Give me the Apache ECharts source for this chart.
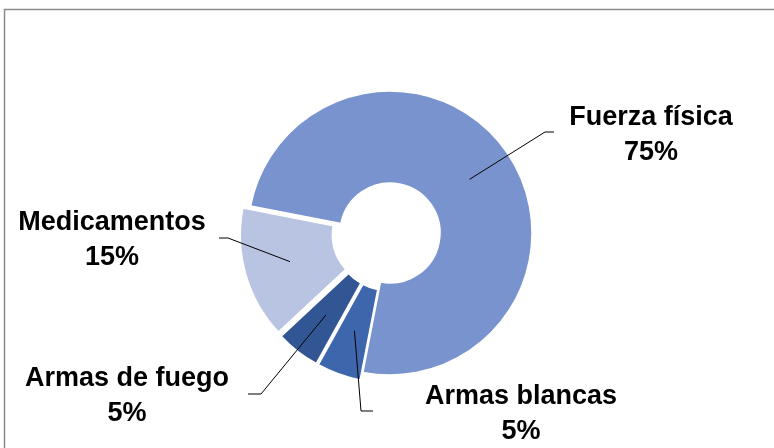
<!DOCTYPE html>
<html>
<head>
<meta charset="utf-8">
<script src="https://cdn.jsdelivr.net/npm/echarts@6/dist/echarts.min.js"></script>
<style>
html,body{margin:0;padding:0;background:#fff;}
#chart{width:774px;height:448px;}
</style>
</head>
<body>
<div id="chart"></div>
<script>
// ---- data ----
const categories = ['Fuerza física', 'Armas blancas', 'Armas de fuego', 'Medicamentos'];
const values = [75, 5, 5, 15];

// ---- style / layout ----
const colors = ['#7993CE', '#3D66AC', '#325693', '#B9C3E2'];
const exploded = [false, true, true, true];
const CENTER = [390, 233];
const RADIUS = [50, 142];
const START_ANGLE = 169;       // ECharts degrees (counter-clockwise from 3 o'clock)
const OFFSET = 8;
const FONT = '"Liberation Sans", Arial, sans-serif';
// label anchor (centre of two-line label), elbow x/y and end x of the leader line
const labelSpots = [
  {x: 651, y: 135, ex: 545, ey: 132, tx: 554},
  {x: 521, y: 414, ex: 361, ey: 411, tx: 373},
  {x: 127, y: 396, ex: 261, ey: 394, tx: 248},
  {x: 112, y: 240, ex: 228, ey: 238, tx: 219}
];

const total = values.reduce((a, b) => a + b, 0);
const startTop = 90 - START_ANGLE; // clockwise from 12 o'clock
function innerPoint(i) {
  let cum = 0;
  for (let k = 0; k < i; k++) cum += values[k];
  const mid = (startTop + 360 * (cum + values[i] / 2) / total) * Math.PI / 180;
  const off = exploded[i] ? OFFSET : 0;
  const r = (RADIUS[0] + RADIUS[1]) / 2 + off;
  return [CENTER[0] + r * Math.sin(mid), CENTER[1] - r * Math.cos(mid)];
}

const pieBase = {
  type: 'pie',
  center: CENTER,
  radius: RADIUS,
  startAngle: START_ANGLE,
  clockwise: true,
  avoidLabelOverlap: false,
  emphasis: {disabled: true, scale: false}
};

const chart = echarts.init(document.getElementById('chart'), null, {renderer: 'canvas'});
chart.setOption({
  animation: false,
  backgroundColor: '#fff',
  graphic: [{
    type: 'rect',
    shape: {x: 4.5, y: 9.5, width: 820, height: 500},
    style: {fill: 'none', stroke: '#8a8a8a', lineWidth: 1.5},
    silent: true
  }],
  series: [
    Object.assign({}, pieBase, {
      name: 'slices',
      z: 2,
      selectedMode: 'multiple',
      selectedOffset: OFFSET,
      itemStyle: {borderColor: '#ffffff', borderWidth: 1.5},
      label: {show: false},
      labelLine: {show: false},
      data: categories.map((c, i) => ({
        name: c,
        value: values[i],
        selected: exploded[i],
        itemStyle: {color: colors[i]}
      }))
    }),
    Object.assign({}, pieBase, {
      name: 'labels',
      z: 3,
      silent: true,
      selectedMode: false,
      itemStyle: {color: 'rgba(0,0,0,0)', borderWidth: 0},
      data: categories.map((c, i) => ({name: c, value: values[i]})),
      label: {
        show: true,
        position: 'outside',
        formatter: p => p.name + '\n' + Math.round(p.percent) + '%',
        fontFamily: FONT,
        fontSize: 27,
        fontWeight: 'bold',
        color: '#000',
        lineHeight: 35,
        align: 'center'
      },
      labelLine: {show: true, lineStyle: {color: '#000', width: 1}},
      labelLayout: function (params) {
        const i = params.dataIndex;
        const s = labelSpots[i];
        return {
          x: s.x,
          y: s.y,
          align: 'center',
          verticalAlign: 'middle',
          labelLinePoints: [innerPoint(i), [s.ex, s.ey], [s.tx, s.ey]]
        };
      }
    })
  ]
});
</script>
</body>
</html>
